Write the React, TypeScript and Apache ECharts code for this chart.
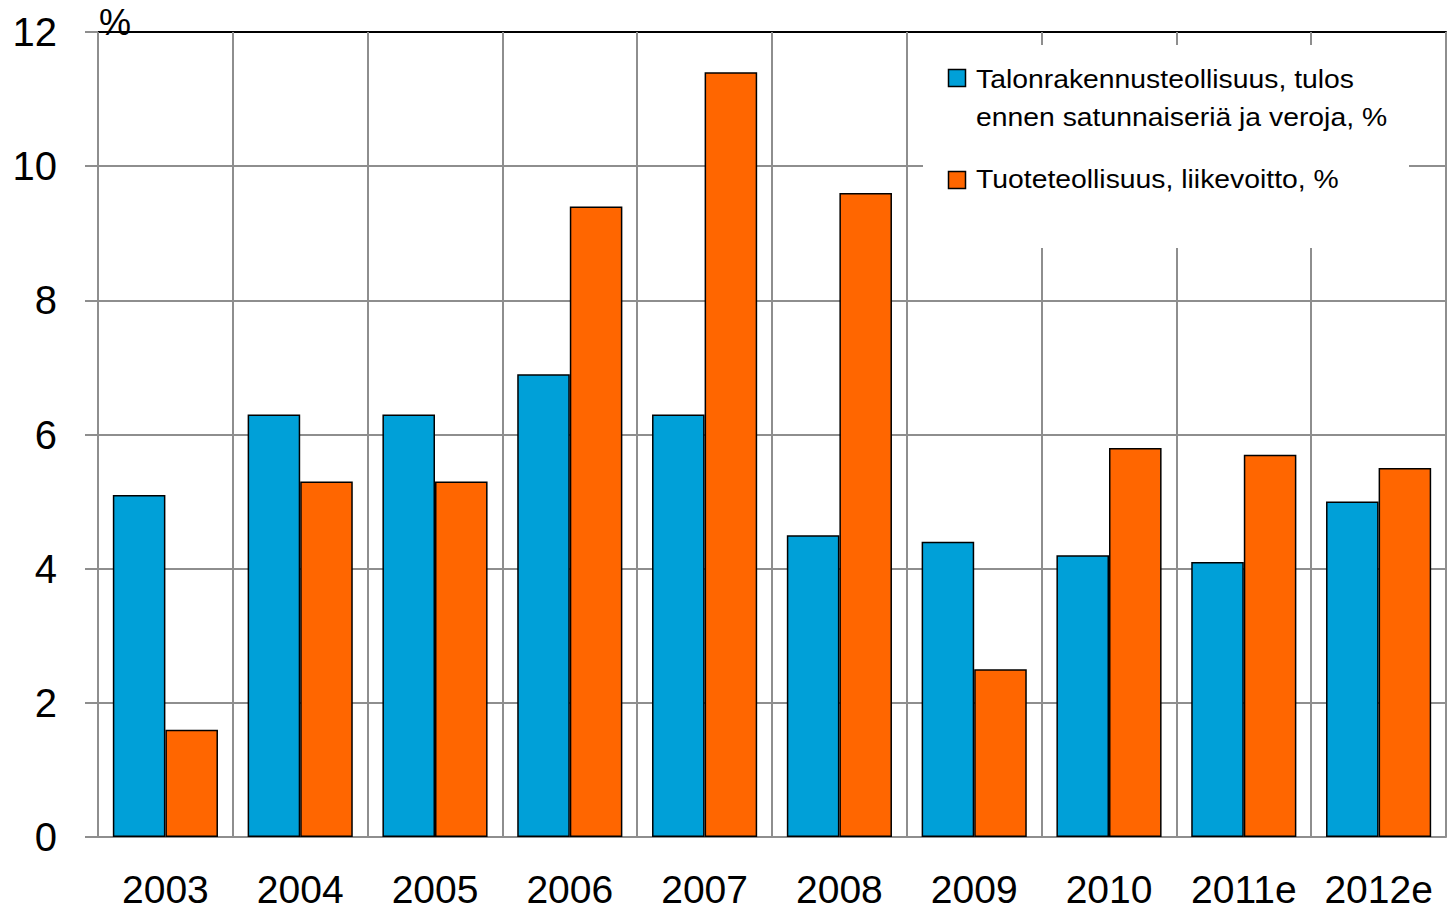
import React, { useEffect, useRef } from "react";
import * as echarts from "echarts";

const categories = ["2003", "2004", "2005", "2006", "2007", "2008", "2009", "2010", "2011e", "2012e"];
const seriesNames = [
  "Talonrakennusteollisuus, tulos ennen satunnaiseriä ja veroja, %",
  "Tuoteteollisuus, liikevoitto, %",
];
const legendLines1 = ["Talonrakennusteollisuus, tulos", "ennen satunnaiseriä ja veroja, %"];
const legendLines2 = ["Tuoteteollisuus, liikevoitto, %"];
const talonrakennus = [5.1, 6.3, 6.3, 6.9, 6.3, 4.5, 4.4, 4.2, 4.1, 5.0];
const tuoteteollisuus = [1.6, 5.3, 5.3, 9.4, 11.4, 9.6, 2.5, 5.8, 5.7, 5.5];
const yTicks = [0, 2, 4, 6, 8, 10, 12];

const BLUE = "#00a0d8";
const ORANGE = "#ff6600";
const GRID = "#8e8e8e";
const FONT = "'Liberation Sans', Arial, Helvetica, sans-serif";

export default function App() {
  const ref = useRef<HTMLDivElement>(null);
  useEffect(() => {
    if (!ref.current) return;
    const chart = echarts.init(ref.current, undefined, { renderer: "svg" });
    const legendText = (text: string, y: number) => ({
      type: "text",
      x: 976,
      y,
      scaleX: 1.09,
      style: { text, font: `26px ${FONT}`, fill: "#000", verticalAlign: "middle", align: "left" },
      z: 50,
    });
    const option: any = {
      animation: false,
      backgroundColor: "#ffffff",
      grid: { left: 98, right: 1, top: 32, bottom: 73, containLabel: false },
      xAxis: [
        {
          type: "category",
          data: categories,
          boundaryGap: true,
          axisLine: { show: true, lineStyle: { color: GRID, width: 2 } },
          axisTick: { show: false },
          axisLabel: {
            color: "#000",
            fontSize: 39,
            lineHeight: 28,
            fontFamily: FONT,
            margin: 38,
            interval: 0,
          },
          splitLine: { show: true, interval: 0, lineStyle: { color: GRID, width: 2 } },
          z: 1,
        },
        {
          type: "category",
          data: categories,
          position: "top",
          axisLine: { show: true, lineStyle: { color: "#000", width: 2 } },
          axisTick: { show: false },
          axisLabel: { show: false },
          splitLine: { show: false },
        },
      ],
      yAxis: {
        type: "value",
        min: 0,
        max: 12,
        interval: 2,
        axisLine: { show: true, lineStyle: { color: GRID, width: 2 } },
        axisTick: { show: true, inside: false, length: 13, lineStyle: { color: GRID, width: 2 } },
        axisLabel: {
          color: "#000",
          fontSize: 40,
          fontFamily: FONT,
          margin: 41,
          formatter: (v: number) => (yTicks.includes(v) ? String(v) : ""),
        },
        splitLine: { show: true, lineStyle: { color: GRID, width: 2 } },
      },
      series: [
        {
          name: seriesNames[0],
          type: "bar",
          data: talonrakennus,
          barGap: "0%",
          barCategoryGap: "22%",
          itemStyle: { color: BLUE, borderColor: "#000", borderWidth: 1.5 },
          z: 3,
        },
        {
          name: seriesNames[1],
          type: "bar",
          data: tuoteteollisuus,
          barGap: "0%",
          barCategoryGap: "22%",
          itemStyle: { color: ORANGE, borderColor: "#000", borderWidth: 1.5 },
          z: 3,
        },
      ],
      graphic: [
        {
          type: "text",
          x: 99,
          y: 4,
          style: { text: "%", font: `36px ${FONT}`, fill: "#000", verticalAlign: "top", align: "left" },
          z: 50,
        },
        {
          type: "rect",
          shape: { x: 923, y: 45, width: 486, height: 203 },
          style: { fill: "#ffffff" },
          z: 40,
        },
        {
          type: "rect",
          shape: { x: 948.5, y: 69.5, width: 17, height: 17 },
          style: { fill: BLUE, stroke: "#000", lineWidth: 1.5 },
          z: 50,
        },
        {
          type: "rect",
          shape: { x: 948.5, y: 171.5, width: 17, height: 17 },
          style: { fill: ORANGE, stroke: "#000", lineWidth: 1.5 },
          z: 50,
        },
        legendText(legendLines1[0], 79),
        legendText(legendLines1[1], 117),
        legendText(legendLines2[0], 179),
      ],
    };
    chart.setOption(option);
    return () => chart.dispose();
  }, []);
  return (
    <div
      ref={ref}
      style={{ position: "fixed", left: 0, top: 0, width: 1447, height: 910, background: "#fff" }}
    />
  );
}
